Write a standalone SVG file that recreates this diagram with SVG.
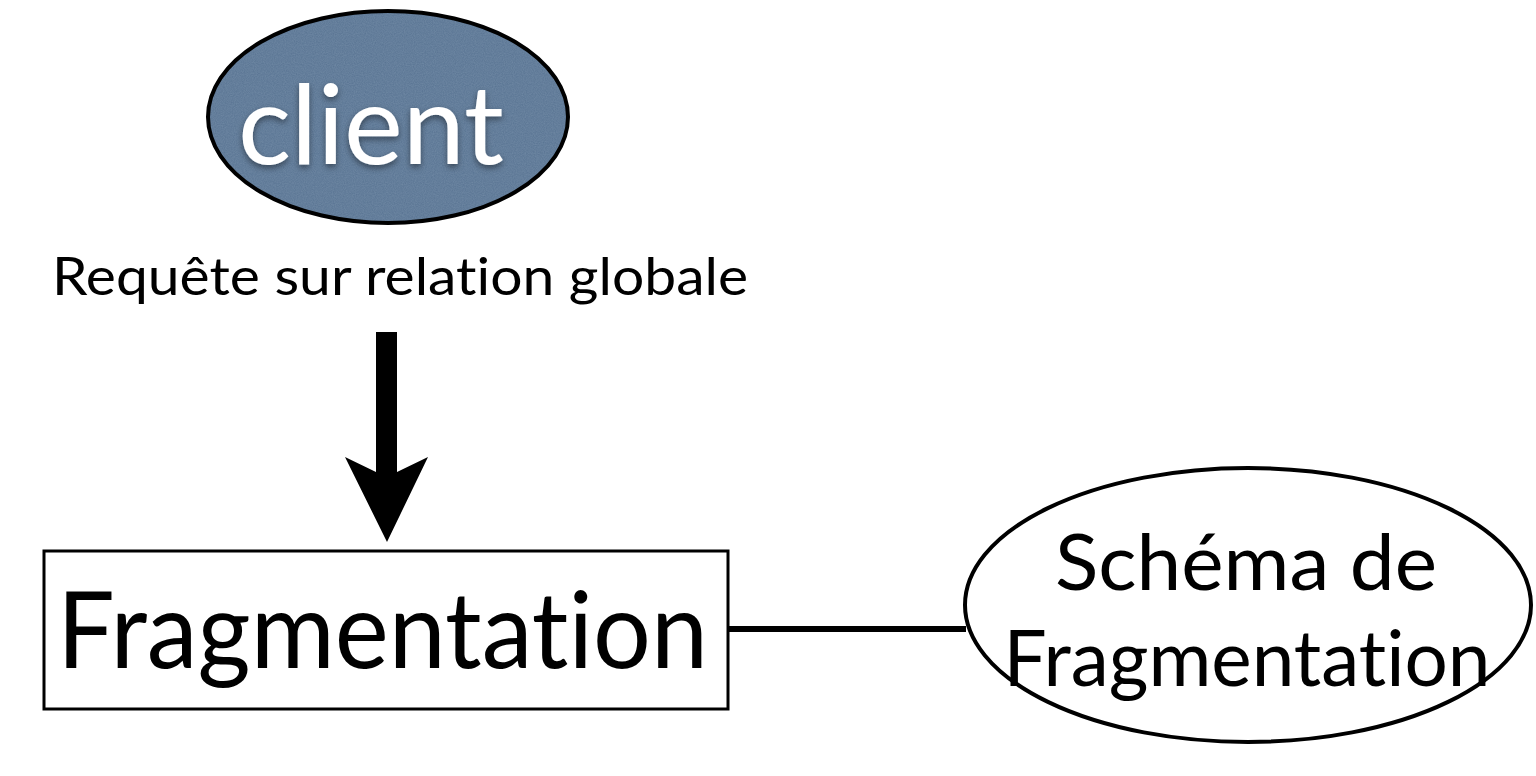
<svg xmlns="http://www.w3.org/2000/svg" width="1536" height="776" viewBox="0 0 1536 776">
  <style>
    text { font-variant-ligatures: none; font-feature-settings: "liga" 0, "clig" 0; }
    .lbl { font-family: Lato, "Open Sans", "Liberation Sans", sans-serif; fill: #000; }
    .outline { fill: #fff; stroke: #000; }
  </style>
  <defs>
    <!-- fine grain for the client bubble -->
    <filter id="grain" x="0" y="0" width="100%" height="100%">
      <feTurbulence type="fractalNoise" baseFrequency="0.9" numOctaves="2" seed="3" result="n"/>
      <feColorMatrix in="n" type="matrix" values="0 0 0 0 0.33  0 0 0 0 0.44  0 0 0 0 0.56  0 0 0 0.35 0" result="c"/>
      <feComposite in="c" in2="SourceGraphic" operator="in"/>
    </filter>
    <filter id="soft" x="-10%" y="-10%" width="120%" height="130%">
      <feDropShadow dx="0" dy="3" stdDeviation="3" flood-color="#000" flood-opacity="0.45"/>
    </filter>
    <clipPath id="clientClip">
      <ellipse cx="388" cy="117" rx="180" ry="106"/>
    </clipPath>
  </defs>

  <rect width="1536" height="776" fill="#fff"/>

  <g id="connectors">
    <!-- request arrow -->
    <path d="M376,332 H397 V472 L428,457 L387,542 L345,457 L376,472 Z" fill="#000"/>
    <!-- link to fragmentation schema -->
    <line x1="728" y1="629" x2="966" y2="629" stroke="#000" stroke-width="6"/>
  </g>

  <g id="client">
    <ellipse cx="388" cy="117" rx="180" ry="106" fill="#587392"/>
    <rect x="208" y="11" width="360" height="212" fill="#587392" clip-path="url(#clientClip)" filter="url(#grain)"/>
    <ellipse cx="388" cy="117" rx="180" ry="106" fill="none" stroke="#000" stroke-width="4"/>
    <text x="238" y="164" font-family="Lato, 'Open Sans', 'Liberation Sans', sans-serif" font-size="110" fill="#fff" filter="url(#soft)" textLength="266" lengthAdjust="spacingAndGlyphs">client</text>
  </g>

  <g id="request-label">
    <text class="lbl" x="52" y="295" font-size="52" textLength="696" lengthAdjust="spacingAndGlyphs">Requête sur relation globale</text>
  </g>

  <g id="fragmentation">
    <rect class="outline" x="44" y="551" width="684" height="158" stroke-width="3"/>
    <text class="lbl" x="57" y="668" font-size="106" textLength="651" lengthAdjust="spacingAndGlyphs">Fragmentation</text>
  </g>

  <g id="schema">
    <ellipse class="outline" cx="1248" cy="605" rx="283" ry="137" stroke-width="4"/>
    <text class="lbl" x="1246" y="590" font-size="78" text-anchor="middle" textLength="382" lengthAdjust="spacingAndGlyphs">Schéma de</text>
    <text class="lbl" x="1247" y="686" font-size="78" text-anchor="middle" textLength="487" lengthAdjust="spacingAndGlyphs">Fragmentation</text>
  </g>
</svg>
